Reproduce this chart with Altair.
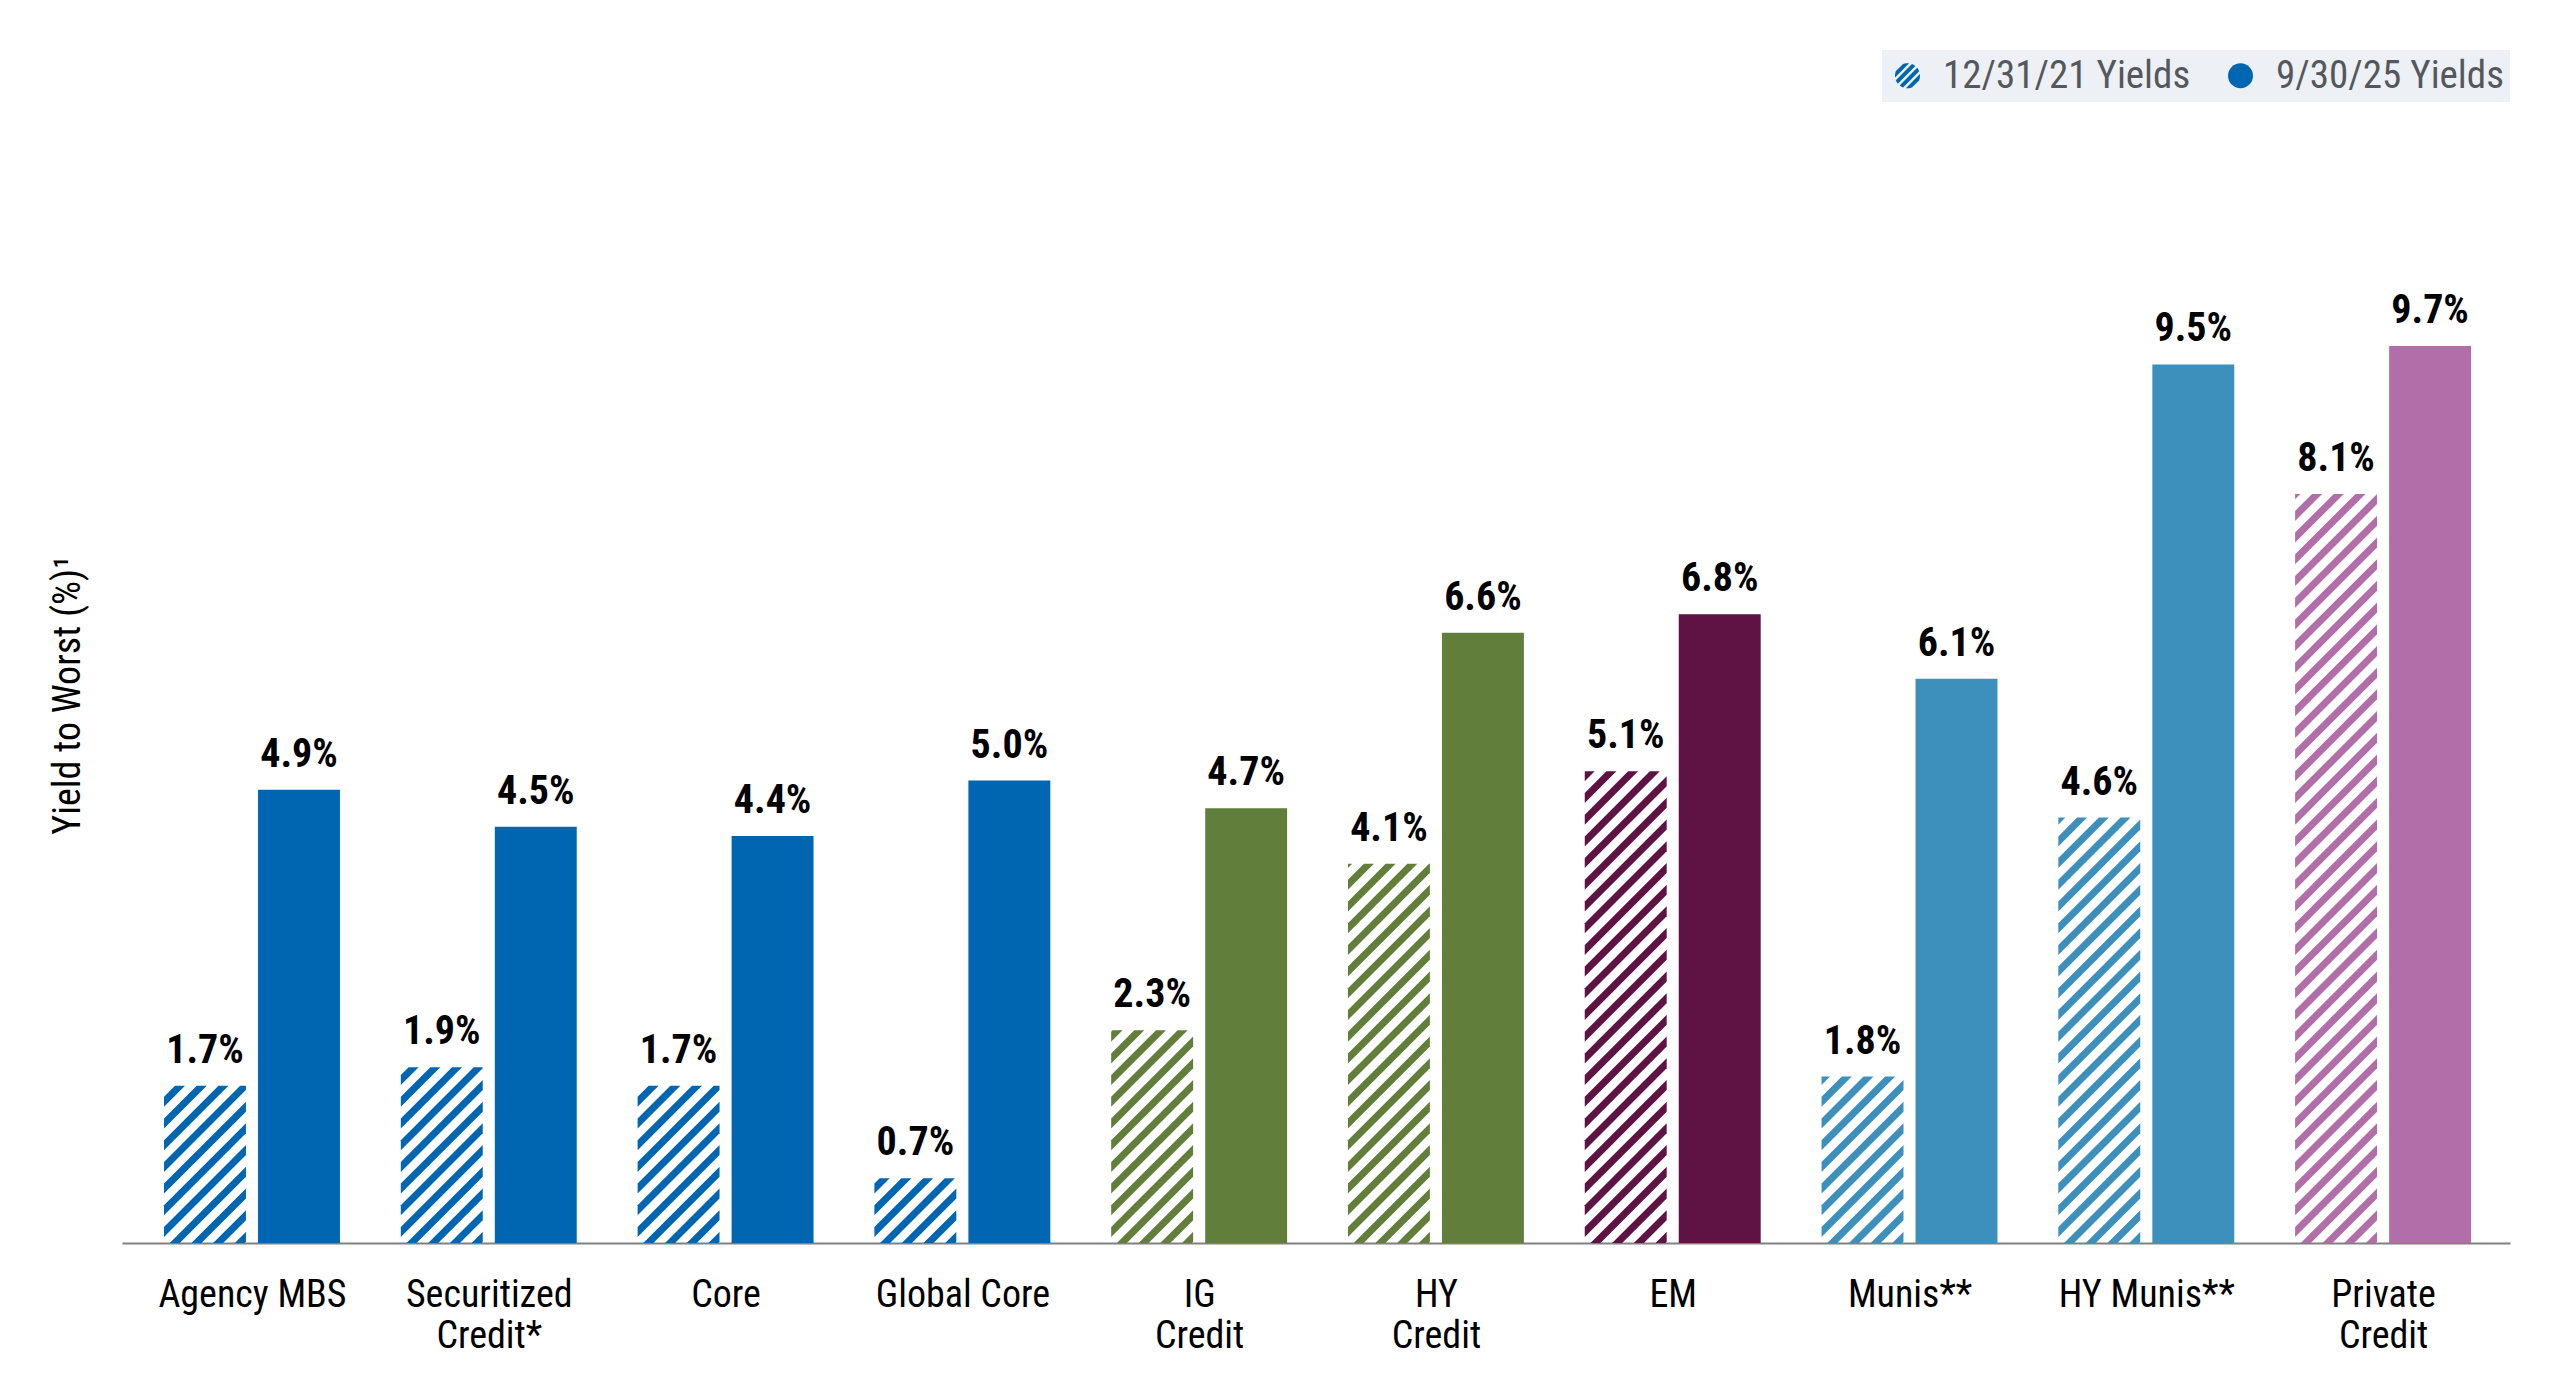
import json
import math
import altair as alt
import pandas as pd

# ---------------- data ----------------
categories = ["Agency MBS", "Securitized|Credit*", "Core", "Global Core", "IG|Credit",
              "HY|Credit", "EM", "Munis**", "HY Munis**", "Private|Credit"]
old_yields = [1.7, 1.9, 1.7, 0.7, 2.3, 4.1, 5.1, 1.8, 4.6, 8.1]
new_yields = [4.9, 4.5, 4.4, 5.0, 4.7, 6.6, 6.8, 6.1, 9.5, 9.7]
bar_colors = ["#0066b2", "#0066b2", "#0066b2", "#0066b2", "#617f3b",
              "#617f3b", "#5f1244", "#3d8fbc", "#3d8fbc", "#b16ea8"]
series = ["12/31/21 Yields", "9/30/25 Yields"]

# ---------------- layout constants ----------------
W, H = 2388, 1193
X_DOM = [-0.549, 9.536]
Y_DOM = [0, 12.9]
PX_X = W / (X_DOM[1] - X_DOM[0])
PX_Y = H / (Y_DOM[1] - Y_DOM[0])
BAR_W = 0.346
GAP = 0.051
STRIPE_P = 21.7   # vertical period of hatch (px)
STRIPE_T = 10.0   # vertical thickness of hatch stripe (px)

COND = "Roboto Condensed, Liberation Sans Narrow, DejaVu Sans Condensed, Roboto"
BLUE = "#0066b2"

# solid bars
solid = pd.DataFrame({
    "x": [i + GAP / 2 for i in range(len(categories))],
    "x2": [i + GAP / 2 + BAR_W for i in range(len(categories))],
    "v": new_yields,
    "base": [0] * len(categories),
    "color": bar_colors,
})

# value labels
labels = pd.DataFrame({
    "xc": [i - GAP / 2 - BAR_W / 2 for i in range(len(categories))]
          + [i + GAP / 2 + BAR_W / 2 for i in range(len(categories))],
    "v": old_yields + new_yields,
})
labels["txt"] = [f"{v:.1f}%" for v in labels["v"]]

# hatch stripes for the 12/31/21 bars (built from the data values)
rows = []
for i, (v, col) in enumerate(zip(old_yields, bar_colors)):
    x0 = i - GAP / 2 - BAR_W
    wp = BAR_W * PX_X
    h = v * PX_Y
    c = -math.ceil((wp + STRIPE_T) / STRIPE_P) * STRIPE_P + 6
    k = 0
    while c < h:
        cand = [0, wp, -c, h - c, -c - STRIPE_T, h - c - STRIPE_T]
        xs = sorted(set(round(min(max(q, 0), wp), 3) for q in cand))
        pts = []
        for xp in xs:
            lo = min(max(xp + c, 0), h)
            up = min(max(xp + c + STRIPE_T, 0), h)
            pts.append((xp, lo, up))
        if any(u - l > 1e-6 for _, l, u in pts):
            for j, (xp, lo, up) in enumerate(pts):
                rows.append({"sid": f"s{i}_{k}",
                             "hx": x0 + xp / PX_X, "lo": lo / PX_Y, "hi": up / PX_Y,
                             "color": col})
        c += STRIPE_P
        k += 1
stripes = pd.DataFrame(rows)

# hatched circle legend symbol path (unit square -1..1, svg y down, "/" stripes)
def hatched_circle():
    parts = []
    for cs in [-1.08, -0.36, 0.36, 1.08]:
        s1 = max((cs - 0.22) / math.sqrt(2), -0.999)
        s2 = min((cs + 0.22) / math.sqrt(2), 0.999)
        a1, a2 = math.asin(s1), math.asin(s2)
        pts = []
        for t in range(7):
            phi = a1 + (a2 - a1) * t / 6
            th = phi - math.pi / 4
            pts.append((math.cos(th), math.sin(th)))
        for t in range(7):
            phi = (math.pi - a2) + (a2 - a1) * t / 6
            th = phi - math.pi / 4
            pts.append((math.cos(th), math.sin(th)))
        parts.append("M" + " L".join(f"{px:.3f},{py:.3f}" for px, py in pts) + " Z")
    return " ".join(parts)

legend_df = pd.DataFrame({"series": series, "x": [0, 0], "y": [0, 0]})

label_expr = "split(" + json.dumps(categories) + "[round(datum.value)], '|')"

x_scale = alt.Scale(domain=X_DOM, nice=False, zero=False)
y_scale = alt.Scale(domain=Y_DOM, nice=False)

x_axis = alt.Axis(values=list(range(len(categories))), labelExpr=label_expr,
                  title=None, ticks=False, grid=False, domainColor="#808080",
                  domainWidth=2, labelFont=COND, labelFontSize=38, labelColor="#000000",
                  labelPadding=33, labelLineHeight=41, labelOverlap=False,
                  labelFlush=False, labelBound=False, labelLimit=400)
y_axis = alt.Axis(labels=False, ticks=False, grid=False, domain=False,
                  title="Yield to Worst (%)\u00b9", titleFont=COND, titleFontSize=38,
                  titleFontWeight="normal", titleColor="#000000",
                  titleX=-43, titleY=645, titleAngle=270, titleAlign="center",
                  titleBaseline="alphabetic")

bars = alt.Chart(solid).mark_bar().encode(
    x=alt.X("x:Q", scale=x_scale, axis=x_axis),
    x2="x2:Q",
    y=alt.Y("v:Q", scale=y_scale, axis=y_axis),
    y2="base:Q",
    color=alt.Color("color:N", scale=None),
)

hatch = alt.Chart(stripes).mark_area(opacity=1, orient="vertical").encode(
    x=alt.X("hx:Q", scale=x_scale),
    y=alt.Y("lo:Q", scale=y_scale, stack=None),
    y2="hi:Q",
    detail="sid:N",
    color=alt.Color("color:N", scale=None),
)

text = alt.Chart(labels).mark_text(font=COND, fontSize=40, fontWeight="bold",
                                   baseline="alphabetic", dy=-23, color="#000000").encode(
    x=alt.X("xc:Q", scale=x_scale),
    y=alt.Y("v:Q", scale=y_scale),
    text="txt:N",
)

legend_layer = alt.Chart(legend_df).mark_point(filled=True, opacity=0, color=BLUE).encode(
    x=alt.X("x:Q", scale=x_scale),
    y=alt.Y("y:Q", scale=y_scale),
    shape=alt.Shape("series:N",
                    scale=alt.Scale(domain=series, range=[hatched_circle(), "circle"]),
                    legend=alt.Legend(title=None, orient="top-right", offset=0,
                                      direction="horizontal", fillColor="#edf0f5",
                                      padding=6, symbolSize=625, symbolOpacity=1,
                                      symbolFillColor=BLUE, symbolStrokeWidth=0,
                                      labelFont=COND, labelFontSize=39,
                                      labelColor="#54585d", labelOffset=16,
                                      columnPadding=30, labelLimit=400)),
)

chart = alt.layer(bars, hatch, text, legend_layer).properties(
    width=W, height=H,
    autosize=alt.AutoSizeParams(type="none"),
    padding={"left": 114, "top": 42, "right": 40, "bottom": 150},
    background="#ffffff",
).configure_view(stroke=None)

chart.save("out.html", embed_options={"renderer": "svg", "actions": False})
